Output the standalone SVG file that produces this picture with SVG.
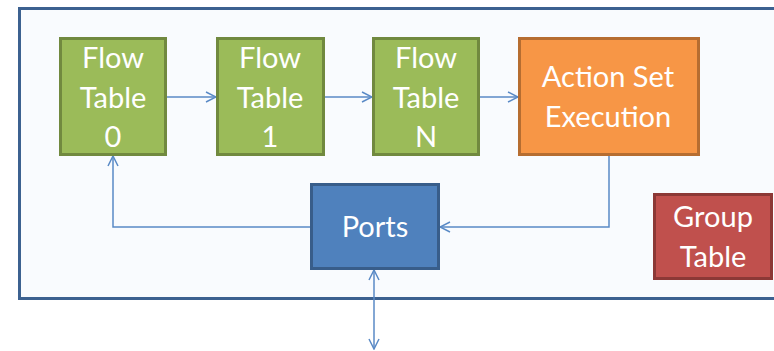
<svg xmlns="http://www.w3.org/2000/svg" width="774" height="351" viewBox="0 0 774 351">
<style>
.t{font-family:Lato,"Open Sans",sans-serif;font-size:29px;fill:#fff;text-anchor:middle}
.c{fill:none;stroke:#5a8ac6;stroke-width:1.5}
.g{fill:#9bbb59;stroke:#71893f;stroke-width:3}
</style>
<defs>
<marker id="a" viewBox="0 0 12 12" refX="11" refY="6" markerWidth="12" markerHeight="12" markerUnits="userSpaceOnUse" orient="auto-start-reverse">
<path d="M1,1 L11,6 L1,11" fill="none" stroke="#5a8ac6" stroke-width="1.5"/>
</marker>
</defs>
<rect x="0" y="0" width="774" height="351" fill="#fff"/>
<rect id="frame" x="19.5" y="8.5" width="770" height="290" fill="#f9fbfe" stroke="#3c6190" stroke-width="3"/>
<g id="connectors">
<line class="c" x1="167" y1="97" x2="216" y2="97" marker-end="url(#a)"/>
<line class="c" x1="324" y1="97" x2="372" y2="97" marker-end="url(#a)"/>
<line class="c" x1="480" y1="97" x2="518" y2="97" marker-end="url(#a)"/>
<polyline class="c" points="609,156 609,227 440,227" marker-end="url(#a)"/>
<polyline class="c" points="310,227 113,227 113,156" marker-end="url(#a)"/>
<line class="c" x1="374" y1="270" x2="374" y2="349" marker-start="url(#a)" marker-end="url(#a)"/>
</g>
<g id="ft0">
<rect class="g" x="60.5" y="38.5" width="105" height="116"/>
<text class="t" x="113" y="68">Flow</text><text class="t" x="113" y="108">Table</text><text class="t" x="113" y="147">0</text>
</g>
<g id="ft1">
<rect class="g" x="217.5" y="38.5" width="106" height="116"/>
<text class="t" x="270" y="68">Flow</text><text class="t" x="270" y="108">Table</text><text class="t" x="270" y="147">1</text>
</g>
<g id="ftn">
<rect class="g" x="373.5" y="38.5" width="105" height="116"/>
<text class="t" x="426" y="68">Flow</text><text class="t" x="426" y="108">Table</text><text class="t" x="426" y="147">N</text>
</g>
<g id="action">
<rect x="519.5" y="38.5" width="179" height="116" fill="#f79646" stroke="#b66d31" stroke-width="3"/>
<text class="t" x="608" y="87">Action Set</text><text class="t" x="608" y="127">Execution</text>
</g>
<g id="ports">
<rect x="311.5" y="184.5" width="127" height="84" fill="#4f81bd" stroke="#385d8a" stroke-width="3"/>
<text class="t" x="375" y="237">Ports</text>
</g>
<g id="group">
<rect x="654.5" y="194.5" width="117" height="84" fill="#c0504d" stroke="#8c3836" stroke-width="3"/>
<text class="t" x="713" y="227">Group</text><text class="t" x="713" y="267">Table</text>
</g>
</svg>
